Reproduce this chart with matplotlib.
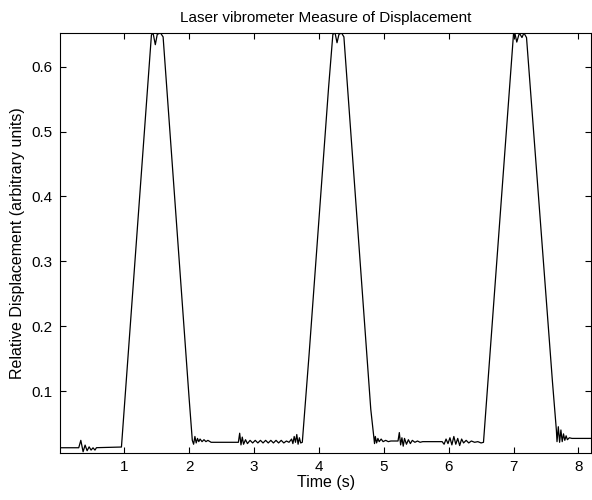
import matplotlib
matplotlib.use("Agg")
import matplotlib.pyplot as plt

plt.rcParams["font.family"] = ["Liberation Sans", "DejaVu Sans"]

# time (s) and displacement
time_s = [
    0.00, 0.30, 0.332, 0.367, 0.398, 0.429, 0.46, 0.49, 0.52, 0.55, 0.573, 0.958,
    1.05, 1.15, 1.25, 1.35, 1.42, 1.445, 1.48, 1.51, 1.56, 1.60,
    1.70, 1.80, 1.90, 2.00, 2.05,
    2.07, 2.09, 2.11, 2.13, 2.15, 2.17, 2.20, 2.23, 2.26, 2.29, 2.34, 2.76,
    2.78, 2.80, 2.82, 2.84, 2.87, 2.90, 2.94, 2.98,
    3.02, 3.06, 3.10, 3.14, 3.18, 3.22, 3.26, 3.30, 3.34, 3.38, 3.42, 3.46,
    3.50, 3.54, 3.58, 3.60, 3.62, 3.64, 3.66, 3.68, 3.70, 3.72, 3.745,
    3.85, 3.95, 4.05, 4.15, 4.216, 4.25, 4.28, 4.31, 4.35, 4.386,
    4.50, 4.60, 4.70, 4.80, 4.858,
    4.87, 4.89, 4.91, 4.93, 4.96, 4.99, 5.03, 5.07, 5.11, 5.22,
    5.24, 5.26, 5.28, 5.30, 5.32, 5.35, 5.38, 5.41, 5.44, 5.48, 5.52, 5.56,
    5.60, 5.90, 5.93, 5.96, 5.99, 6.02, 6.05, 6.08, 6.11, 6.14, 6.17, 6.20,
    6.23, 6.27, 6.31, 6.35, 6.40, 6.45, 6.50, 6.537,
    6.65, 6.75, 6.85, 6.95, 7.00, 7.02, 7.05, 7.09, 7.13, 7.16, 7.20,
    7.30, 7.40, 7.50, 7.60, 7.66,
    7.67, 7.69, 7.71, 7.73, 7.75, 7.77, 7.79, 7.81, 7.83, 7.86, 7.90, 8.20,
]
displacement = [
    0.0126, 0.0126, 0.024, 0.0064, 0.0167, 0.008, 0.014, 0.009, 0.0125, 0.009, 0.0127, 0.0137,
    0.140, 0.278, 0.416, 0.553, 0.649, 0.652, 0.634, 0.650, 0.652, 0.646,
    0.507, 0.368, 0.229, 0.090, 0.024,
    0.018, 0.030, 0.020, 0.027, 0.022, 0.026, 0.022, 0.025, 0.022, 0.024, 0.021, 0.021,
    0.035, 0.017, 0.029, 0.018, 0.025, 0.019, 0.024, 0.020,
    0.024, 0.020, 0.024, 0.020, 0.024, 0.020, 0.024, 0.020, 0.024, 0.020, 0.024, 0.020,
    0.023, 0.021, 0.026, 0.019, 0.030, 0.021, 0.033, 0.018, 0.028, 0.020, 0.021,
    0.157, 0.294, 0.431, 0.568, 0.650, 0.652, 0.637, 0.650, 0.652, 0.646,
    0.488, 0.349, 0.210, 0.072, 0.019,
    0.030, 0.020, 0.027, 0.022, 0.026, 0.022, 0.024, 0.022, 0.023, 0.023,
    0.036, 0.017, 0.028, 0.015, 0.027, 0.018, 0.025, 0.019, 0.024, 0.021, 0.023, 0.021,
    0.022, 0.022, 0.018, 0.026, 0.019, 0.028, 0.017, 0.030, 0.018, 0.027, 0.016, 0.026,
    0.020, 0.024, 0.020, 0.023, 0.021, 0.022, 0.020, 0.021,
    0.175, 0.311, 0.448, 0.584, 0.651, 0.652, 0.638, 0.652, 0.645, 0.652, 0.645,
    0.513, 0.380, 0.247, 0.114, 0.040,
    0.022, 0.045, 0.021, 0.040, 0.022, 0.034, 0.024, 0.031, 0.025, 0.028, 0.027, 0.027,
]

xticks = [1, 2, 3, 4, 5, 6, 7, 8]
yticks = [0.1, 0.2, 0.3, 0.4, 0.5, 0.6]

fig = plt.figure(figsize=(5.92, 5.0), dpi=100)
ax = fig.add_axes([0.101, 0.094, 0.898, 0.84])
ax.plot(time_s, displacement, color="black", linewidth=0.9)
ax.set_xlim(0.008, 8.2)
ax.set_ylim(0.0045, 0.652)
ax.set_xticks(xticks)
ax.set_xticklabels([str(t) for t in xticks])
ax.set_yticks(yticks)
ax.set_yticklabels([f"{v:.1f}" for v in yticks])
ax.tick_params(direction="in", top=True, right=True, length=4, width=0.8,
               labelsize=11, pad=5)
for s in ax.spines.values():
    s.set_linewidth(0.8)
ax.set_title("Laser vibrometer Measure of Displacement", fontsize=11, pad=8)
ax.set_xlabel("Time (s)", fontsize=11.5, labelpad=1)
ax.set_ylabel("Relative Displacement (arbitrary units)", fontsize=11.5, labelpad=5)

fig.savefig("out.png", dpi=100)
